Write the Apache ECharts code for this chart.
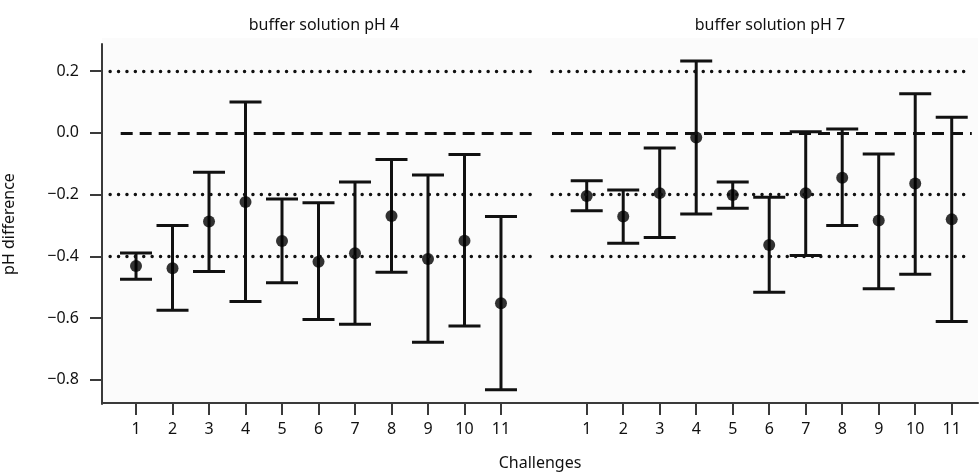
<!DOCTYPE html>
<html>
<head>
<meta charset="utf-8">
<script src="https://cdn.jsdelivr.net/npm/echarts@6/dist/echarts.min.js"></script>
<style>
html,body{margin:0;padding:0;background:#fff;}
#chart{width:979px;height:476px;}
</style>
</head>
<body>
<div id="chart"></div>
<script>
// ---- data ----
const challenges = [1, 2, 3, 4, 5, 6, 7, 8, 9, 10, 11];
const panelTitles = ['buffer solution pH 4', 'buffer solution pH 7'];
const ph4Mean = [-0.431, -0.438, -0.287, -0.224, -0.350, -0.417, -0.390, -0.269, -0.408, -0.349, -0.552];
const ph4Low  = [-0.474, -0.574, -0.449, -0.546, -0.485, -0.604, -0.620, -0.451, -0.678, -0.625, -0.832];
const ph4High = [-0.389, -0.300, -0.127, 0.100, -0.214, -0.226, -0.159, -0.086, -0.136, -0.070, -0.271];
const ph7Mean = [-0.204, -0.271, -0.195, -0.015, -0.201, -0.363, -0.195, -0.145, -0.284, -0.164, -0.280];
const ph7Low  = [-0.252, -0.357, -0.339, -0.263, -0.244, -0.516, -0.397, -0.300, -0.505, -0.458, -0.611];
const ph7High = [-0.155, -0.185, -0.049, 0.233, -0.159, -0.208, 0.004, 0.013, -0.068, 0.127, 0.051];
const yTicks = [-0.8, -0.6, -0.4, -0.2, 0.0, 0.2];
const dottedRefs = [0.2, -0.2, -0.4];
const dashedRefs = [0.0];
const yName = 'pH difference';
const xName = 'Challenges';

// ---- chart ----
const FONT = 'Noto Sans';
const chart = echarts.init(document.getElementById('chart'), null, {renderer: 'canvas'});

const Y_MIN = -0.878, Y_MAX = 0.288;
const panels = [
  {grid: 1, min: 0.068, max: 11.932, dotStart: 0.29, dashStart: 0.58, lineEnd: 11.932, mean: ph4Mean, low: ph4Low, high: ph4High},
  {grid: 2, min: 0.049, max: 11.72, dotStart: 0.049, dashStart: 0.049, lineEnd: 11.55, mean: ph7Mean, low: ph7Low, high: ph7High}
];

function fmtY(v) {
  const s = Math.abs(v).toFixed(1);
  return (v < -1e-9 ? '\u2212' : '') + s;
}

function renderErr(params, api) {
  const x = api.value(0), lo = api.value(1), hi = api.value(2);
  const a = api.coord([x, lo]), b = api.coord([x, hi]);
  const hw = 16;
  const st = {stroke: '#111', lineWidth: 3, lineCap: 'butt'};
  return {
    type: 'group',
    children: [
      {type: 'line', shape: {x1: a[0], y1: a[1], x2: b[0], y2: b[1]}, style: st},
      {type: 'line', shape: {x1: a[0] - hw, y1: a[1], x2: a[0] + hw, y2: a[1]}, style: st},
      {type: 'line', shape: {x1: b[0] - hw, y1: b[1], x2: b[0] + hw, y2: b[1]}, style: st}
    ]
  };
}

const xAxes = [
  { // background/full-width bottom axis line
    gridIndex: 0, type: 'value', min: 0, max: 1,
    axisLine: {show: true, onZero: false, lineStyle: {color: '#3a3a3a', width: 2}},
    axisTick: {show: false}, axisLabel: {show: false}, splitLine: {show: false},
    name: xName, nameLocation: 'middle', nameGap: 52,
    nameTextStyle: {fontFamily: FONT, fontSize: 16, color: '#111'}
  }
];
const yAxes = [
  {gridIndex: 0, type: 'value', min: 0, max: 1, show: false}
];
const series = [];

panels.forEach((p, i) => {
  xAxes.push({
    gridIndex: p.grid, type: 'value', min: p.min, max: p.max, position: 'bottom',
    axisLine: {show: false, onZero: false},
    axisTick: {show: true, length: 11, inside: false, lineStyle: {color: '#3a3a3a', width: 2}, customValues: challenges},
    axisLabel: {show: true, margin: 17, fontFamily: FONT, fontSize: 16, color: '#111', customValues: challenges, formatter: v => String(v)},
    splitLine: {show: false}
  });
  yAxes.push({
    gridIndex: p.grid, type: 'value', min: Y_MIN, max: Y_MAX,
    show: i === 0,
    axisLine: {show: i === 0, onZero: false, lineStyle: {color: '#3a3a3a', width: 2}},
    axisTick: {show: i === 0, length: 12, lineStyle: {color: '#3a3a3a', width: 2}, customValues: yTicks},
    axisLabel: {show: i === 0, margin: 23, fontFamily: FONT, fontSize: 16, color: '#111', customValues: yTicks, formatter: fmtY},
    splitLine: {show: false},
    name: i === 0 ? yName : '', nameLocation: 'middle', nameGap: 85, nameRotate: 90,
    nameTextStyle: {fontFamily: FONT, fontSize: 16, color: '#111'}
  });

  const ml = [];
  dottedRefs.forEach(y => ml.push([
    {coord: [p.dotStart, y], lineStyle: {type: [0.1, 8.3], width: 3.4, cap: 'round', color: '#111'}},
    {coord: [p.lineEnd, y]}
  ]));
  dashedRefs.forEach(y => ml.push([
    {coord: [p.dashStart, y], lineStyle: {type: [12, 7], width: 3, cap: 'butt', color: '#111'}},
    {coord: [p.lineEnd, y]}
  ]));

  series.push({
    type: 'line', xAxisIndex: p.grid, yAxisIndex: p.grid, data: [], silent: true, z: 1,
    markLine: {silent: true, symbol: ['none', 'none'], label: {show: false}, animation: false, data: ml}
  });
  series.push({
    type: 'custom', xAxisIndex: p.grid, yAxisIndex: p.grid, z: 3,
    renderItem: renderErr,
    data: challenges.map((c, k) => [c, p.low[k], p.high[k]])
  });
  series.push({
    type: 'scatter', xAxisIndex: p.grid, yAxisIndex: p.grid, z: 4,
    symbol: 'circle', symbolSize: 12,
    itemStyle: {color: '#000'},
    data: challenges.map((c, k) => [c, p.mean[k]])
  });
});

chart.setOption({
  animation: false,
  backgroundColor: '#ffffff',
  title: [
    {text: panelTitles[0], left: 319, top: 12, textAlign: 'center', textStyle: {fontFamily: FONT, fontSize: 16, fontWeight: 'normal', color: '#111'}},
    {text: panelTitles[1], left: 765, top: 12, textAlign: 'center', textStyle: {fontFamily: FONT, fontSize: 16, fontWeight: 'normal', color: '#111'}}
  ],
  grid: [
    {left: 102, right: 1, top: 38, bottom: 72, show: true, backgroundColor: '#fbfbfb', borderWidth: 0},
    {left: 102, right: 444, top: 44, bottom: 72},
    {left: 552, right: 1, top: 44, bottom: 72}
  ],
  xAxis: xAxes,
  yAxis: yAxes,
  series: series
});
</script>
</body>
</html>
